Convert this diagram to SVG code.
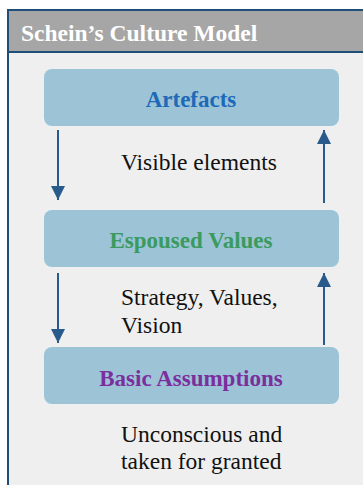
<svg xmlns="http://www.w3.org/2000/svg" width="363" height="485" viewBox="0 0 363 485">
<defs>
<style>
.box{fill:#9cc4d6;}
.conn{stroke:#285a8c;stroke-width:2;fill:none;}
</style>
<marker id="ah" viewBox="0 0 14 14" refX="14" refY="7" markerWidth="14" markerHeight="14" markerUnits="userSpaceOnUse" orient="auto">
<path d="M0,0 L14,7 L0,14 Z" fill="#285a8c"/>
</marker>
</defs>
<rect x="0" y="0" width="363" height="485" fill="#ffffff"/>
<g id="frame">
<rect x="8" y="10" width="370" height="490" fill="#efefef" stroke="#1f4e79" stroke-width="2"/>
<rect x="9" y="11" width="360" height="41" fill="#a6a6a6"/>
<line x1="9" y1="52" x2="363" y2="52" stroke="#1f4e79" stroke-width="2"/>
<text x="21" y="41" font-family="'Liberation Serif', serif" font-size="23.5" font-weight="bold" fill="#ffffff">Schein’s Culture Model</text>
</g>
<g id="artefacts">
<rect class="box" x="44" y="69" width="295" height="57" rx="8"/>
<text x="191" y="107" font-family="'Liberation Serif', serif" font-size="23" font-weight="bold" text-anchor="middle" fill="#1c6ab8">Artefacts</text>
</g>
<g id="espoused">
<rect class="box" x="44" y="210" width="295" height="57" rx="8"/>
<text x="191" y="248" font-family="'Liberation Serif', serif" font-size="23" font-weight="bold" text-anchor="middle" fill="#3a9a60">Espoused Values</text>
</g>
<g id="basic">
<rect class="box" x="44" y="347" width="295" height="57" rx="8"/>
<text x="191" y="386" font-family="'Liberation Serif', serif" font-size="23" font-weight="bold" text-anchor="middle" fill="#7b2f9e">Basic Assumptions</text>
</g>
<g id="labels">
<text x="121" y="170" font-family="'Liberation Serif', serif" font-size="23.5" fill="#111111">Visible elements</text>
<text x="121" y="305" font-family="'Liberation Serif', serif" font-size="23.5" fill="#111111">Strategy, Values,</text>
<text x="121" y="333" font-family="'Liberation Serif', serif" font-size="23.5" fill="#111111">Vision</text>
<text x="121" y="442" font-family="'Liberation Serif', serif" font-size="23.5" fill="#111111">Unconscious and</text>
<text x="121" y="469" font-family="'Liberation Serif', serif" font-size="23.5" fill="#111111">taken for granted</text>
</g>
<g id="connectors">
<line class="conn" x1="58" y1="130" x2="58" y2="200" marker-end="url(#ah)"/>
<line class="conn" x1="58" y1="273" x2="58" y2="343" marker-end="url(#ah)"/>
<line class="conn" x1="324" y1="203" x2="324" y2="130" marker-end="url(#ah)"/>
<line class="conn" x1="324" y1="345" x2="324" y2="273" marker-end="url(#ah)"/>
</g>
</svg>
